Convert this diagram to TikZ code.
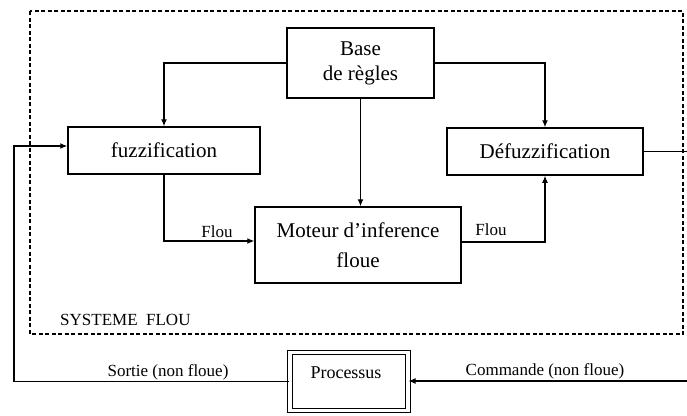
\documentclass[tikz,border=0pt]{standalone}
\usepackage{fontspec}
\setmainfont{Liberation Serif}
\usetikzlibrary{arrows.meta,calc}
\begin{document}
\begin{tikzpicture}[x=1pt,y=-1pt,
  box/.style={draw,line width=1.5pt,inner sep=0pt,align=center,
    font=\fontsize{21}{25}\selectfont},
  procbox/.style={draw,line width=1.1pt,double,double distance=3.5pt,inner sep=0pt},
  conn/.style={line width=1.2pt},
  arr/.style={conn,-{Latex[length=7pt,width=6pt]}},
  lbl/.style={font=\fontsize{17}{20}\selectfont,inner sep=0pt},
  sysframe/.style={line width=1.4pt,dash pattern=on 4pt off 2.5pt}]
\useasboundingbox (0,0) rectangle (687,415);
% frame
\draw[sysframe] (30,11) rectangle (683,334);
\node[lbl,anchor=west] (sys) at (60,320) {SYSTEME\ \ FLOU};
% boxes
\node[box,minimum width=147pt,minimum height=70pt] (base) at (360.5,63) {Base\\de règles};
\node[box,minimum width=192pt,minimum height=47pt] (fuzz) at (164,150.5) {fuzzification};
\node[box,minimum width=196pt,minimum height=47pt] (defuzz) at (545,151.5) {Défuzzification};
\node[box,minimum width=206pt,minimum height=76pt,font=\fontsize{21}{30}\selectfont] (moteur) at (358,245) {Moteur d’inference\\floue};
\node[procbox,minimum width=118pt,minimum height=58pt] (proc) at (349,381.5) {};
\node[lbl,font=\fontsize{18}{20}\selectfont] (proctxt) at (346,373) {Processus};
% coordinates for free ends
\coordinate (fb) at (14,146);
\coordinate (edgeR) at (687,152);
\coordinate (cmdR) at (687,381);
% connectors
\draw[arr] (base.west) -| (fuzz.north);
\draw[arr] (base.east) -| (defuzz.north);
\draw[arr] (base.south) -- (base.south |- moteur.north);
\draw[arr] (fuzz.south) |- ($(moteur.west)+(0,-4)$);
\draw[arr] ($(moteur.east)+(0,-3)$) -| (defuzz.south);
\draw[conn] (defuzz.east) -- (defuzz.east -| edgeR);
\draw[arr] (cmdR) -- (proc.east |- cmdR);
\draw[arr] (proc.west) -| (fb) -- (fuzz.west |- fb);
% labels
\node[lbl] (flou1) at (217,232) {Flou};
\node[lbl] (flou2) at (491,230) {Flou};
\node[lbl] (sortie) at (168,372) {Sortie (non floue)};
\node[lbl] (commande) at (545,371) {Commande (non floue)};
\end{tikzpicture}
\end{document}
